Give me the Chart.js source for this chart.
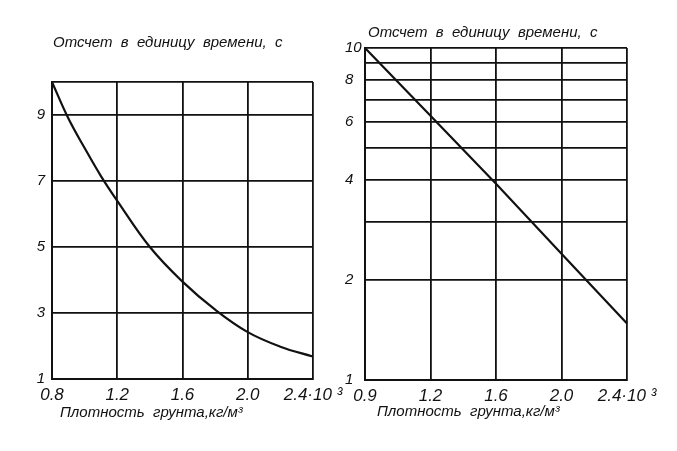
<!DOCTYPE html>
<html>
<head>
<meta charset="utf-8">
<script src="https://cdn.jsdelivr.net/npm/chart.js@4/dist/chart.umd.min.js"></script>
<style>
  html, body { margin: 0; padding: 0; background: #fff; }
  #wrap { position: relative; width: 677px; height: 451px; }
  #wrap canvas { position: absolute; left: 0; top: 0; }
</style>
</head>
<body>
<div id="wrap">
  <canvas id="chartLinear" width="677" height="451"></canvas>
  <canvas id="chartLog" width="677" height="451"></canvas>
</div>
<script>
// left: linear scale
const leftDensity = [0.8, 0.9, 1.0, 1.1, 1.2, 1.4, 1.6, 1.8, 2.0, 2.2, 2.4];
const leftCount   = [10, 8.9, 8.0, 7.15, 6.4, 5.0, 3.95, 3.1, 2.42, 1.98, 1.68];
const leftXTicks  = [0.8, 1.2, 1.6, 2.0, 2.4];
const leftXLabels = ['0.8', '1.2', '1.6', '2.0', '2.4·10 ³'];
const leftYGrid   = [1, 3, 5, 7, 9, 10];
const leftYLabels = [1, 3, 5, 7, 9];

// right: log scale, density axis drawn with equal steps
const rightXLabels = ['0.9', '1.2', '1.6', '2.0', '2.4·10 ³'];
const rightCount   = [10, 6.25, 3.9, 2.4, 1.48];
const rightYGrid   = [1, 2, 3, 4, 5, 6, 7, 8, 9, 10];
const rightYLabels = [1, 2, 4, 6, 8, 10];

const yTitle = 'Отсчет  в  единицу  времени,  с';
const xTitle = 'Плотность  грунта,кг/м³';

const FONT = "'Liberation Sans', Arial, sans-serif";
const INK = '#111';

Chart.defaults.font.family = FONT;
Chart.defaults.font.style = 'italic';
Chart.defaults.color = INK;
Chart.defaults.animation = false;

// draws the two captions relative to the chart area
const captions = {
  id: 'captions',
  afterDraw(chart, args, opts) {
    const { ctx, chartArea } = chart;
    ctx.save();
    ctx.fillStyle = INK;
    ctx.textAlign = 'left';
    ctx.textBaseline = 'alphabetic';
    ctx.font = 'italic 15px ' + FONT;
    ctx.fillText(opts.top, chartArea.left + opts.topDx, chartArea.top - opts.topDy);
    ctx.fillText(opts.bottom, chartArea.left + opts.bottomDx, chartArea.bottom + opts.bottomDy);
    ctx.restore();
  }
};

const gridStyle = { color: INK, lineWidth: 1.8, drawTicks: false };
const borderStyle = { color: INK, width: 2 };

new Chart(document.getElementById('chartLinear'), {
  type: 'line',
  data: {
    datasets: [{
      data: leftDensity.map((x, i) => ({ x: x, y: leftCount[i] })),
      borderColor: INK,
      borderWidth: 2.2,
      pointRadius: 0,
      tension: 0.4,
      fill: false
    }]
  },
  options: {
    responsive: false,
    layout: { padding: { left: 12, right: 364, top: 82, bottom: 32 } },
    plugins: {
      legend: { display: false },
      tooltip: { enabled: false },
      captions: { top: yTitle, topDx: 1, topDy: 35, bottom: xTitle, bottomDx: 8, bottomDy: 38 }
    },
    scales: {
      x: {
        type: 'linear', min: 0.8, max: 2.4,
        grid: gridStyle, border: borderStyle,
        afterBuildTicks: s => { s.ticks = leftXTicks.map(v => ({ value: v })); },
        afterFit: s => { s.height = 40; },
        ticks: {
          padding: 6, maxRotation: 0, autoSkip: false,
          font: { size: 17 },
          callback: (v, i) => leftXLabels[i]
        }
      },
      y: {
        type: 'linear', min: 1, max: 10,
        grid: gridStyle, border: borderStyle,
        afterBuildTicks: s => { s.ticks = leftYGrid.map(v => ({ value: v })); },
        afterFit: s => { s.width = 40; },
        ticks: {
          padding: 7, font: { size: 15 },
          callback: v => leftYLabels.includes(v) ? String(v) : ''
        }
      }
    }
  },
  plugins: [captions]
});

new Chart(document.getElementById('chartLog'), {
  type: 'line',
  data: {
    labels: rightXLabels,
    datasets: [{
      data: rightCount,
      borderColor: INK,
      borderWidth: 2.2,
      pointRadius: 0,
      tension: 0,
      fill: false
    }]
  },
  options: {
    responsive: false,
    layout: { padding: { left: 345, right: 50, top: 48, bottom: 31 } },
    plugins: {
      legend: { display: false },
      tooltip: { enabled: false },
      captions: { top: yTitle, topDx: 3, topDy: 11, bottom: xTitle, bottomDx: 12, bottomDy: 36 }
    },
    scales: {
      x: {
        type: 'category', offset: false,
        grid: gridStyle, border: borderStyle,
        afterFit: s => { s.height = 40; },
        ticks: { padding: 6, maxRotation: 0, autoSkip: false, font: { size: 17 } }
      },
      y: {
        type: 'logarithmic', min: 1, max: 10,
        grid: gridStyle, border: borderStyle,
        afterBuildTicks: s => { s.ticks = rightYGrid.map(v => ({ value: v })); },
        afterFit: s => { s.width = 20; },
        ticks: {
          padding: 2, crossAlign: 'far', font: { size: 15 },
          callback: v => rightYLabels.includes(v) ? String(v) : ''
        }
      }
    }
  },
  plugins: [captions]
});
</script>
</body>
</html>
